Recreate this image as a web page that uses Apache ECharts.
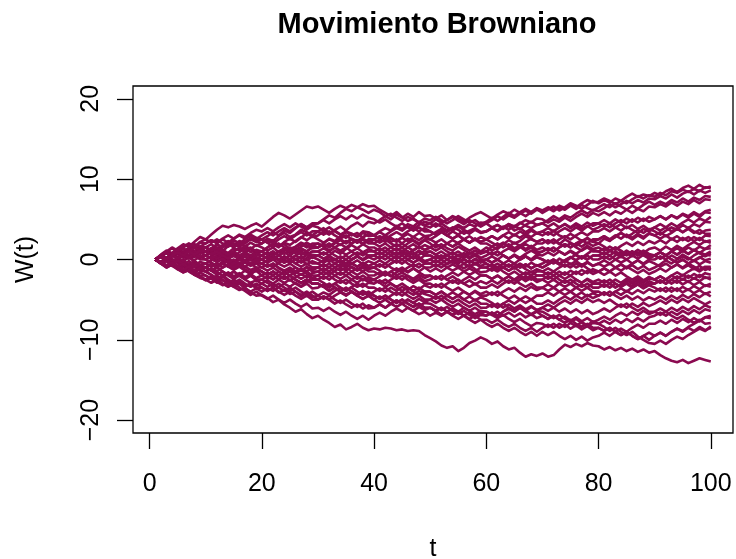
<!DOCTYPE html>
<html>
<head>
<meta charset="utf-8">
<script src="https://cdn.jsdelivr.net/npm/echarts@6/dist/echarts.min.js"></script>
<style>
  html, body { margin: 0; padding: 0; background: #ffffff; }
  #chart { width: 736px; height: 559px; }
</style>
</head>
<body>
<div id="chart"></div>
<script>
// Brownian paths W(t), t = 1..100, one array per path
const w01 = [0,0.4,0.1,0.7,1.2,0.9,1.3,1.0,1.6,1.5, 1.9,1.4,1.8,2.3,1.9,1.6,2.1,2.5,2.2,2.0, 2.6,2.3,2.9,3.3,2.8,3.1,3.7,3.4,3.0,3.5, 3.9,3.3,3.6,3.1,2.7,3.2,2.9,3.5,3.4,3.0, 3.5,3.9,3.6,4.2,3.8,4.4,4.1,4.7,4.3,4.5, 5.0,4.6,4.9,5.4,5.1,4.7,5.2,5.6,5.9,5.5, 5.1,5.6,6.0,5.7,6.2,5.8,5.4,5.9,6.3,5.8, 6.2,6.6,6.1,6.5,7.0,6.7,6.3,6.8,7.3,7.0, 7.4,7.1,7.6,7.3,7.8,8.2,7.8,8.1,7.9,8.3, 8.0,8.5,8.8,8.4,8.9,9.2,8.8,9.3,8.9,9.1];
const w02 = [0,0.6,1.1,0.8,1.4,1.9,1.6,2.2,2.8,2.5, 3.1,3.7,4.2,4.0,4.3,4.1,3.8,4.2,4.5,4.1, 4.7,5.3,5.8,5.5,5.1,5.6,6.1,6.6,6.4,6.6, 6.2,5.8,6.3,6.7,6.4,6.8,6.5,6.2,5.8,6.2, 5.9,5.4,5.7,5.2,4.8,5.3,5.0,4.6,5.1,4.9, 5.3,4.9,4.5,4.9,5.4,5.0,4.6,4.9,4.4,4.7, 5.2,4.8,5.3,5.8,5.4,5.9,6.3,5.9,6.4,6.1, 6.5,6.2,6.7,6.4,6.9,6.5,7.0,7.4,7.1,7.2, 7.6,7.3,6.9,7.3,7.0,7.5,7.9,7.6,8.0,7.8, 8.3,8.0,8.5,8.3,8.7,8.4,8.8,8.5,9.0,8.9];
const w03 = [0,-0.3,0.2,0.6,0.3,0.8,0.5,1.1,0.7,1.0, 1.4,1.1,1.7,2.1,1.8,2.3,2.0,2.6,2.2,2.5, 2.9,3.4,3.0,3.6,3.3,3.9,4.4,4.0,4.3,4.5, 5.0,5.5,5.2,5.8,6.3,6.0,6.5,6.9,6.6,6.7, 6.2,5.8,5.4,5.9,5.3,4.8,5.1,4.6,4.2,4.0, 4.5,4.1,3.6,4.0,3.7,3.2,3.6,3.9,3.4,3.5, 3.9,3.5,4.0,4.4,4.1,4.6,4.2,3.9,4.3,4.5, 4.9,5.4,5.0,5.5,5.2,5.7,6.1,5.7,6.2,6.0, 6.4,6.9,6.5,6.9,7.3,7.0,7.4,7.1,7.6,7.5, 7.9,7.6,8.1,7.7,8.2,8.5,8.1,8.6,8.3,8.6];
const w04 = [0,0.5,0.2,0.7,1.1,0.8,1.3,1.7,1.2,1.5, 1.1,1.5,1.0,0.6,1.0,1.4,0.9,1.3,0.8,1.0, 1.5,1.9,1.6,2.1,1.8,2.3,2.8,2.4,2.9,2.5, 2.1,2.5,2.2,1.8,2.3,2.0,2.4,1.9,2.4,2.0, 2.5,2.2,2.7,2.3,2.8,3.2,2.8,3.3,2.9,3.0, 3.4,3.8,3.4,3.9,4.3,3.9,4.4,4.1,4.6,4.5, 4.9,5.4,5.0,5.5,5.2,5.7,6.1,5.7,6.2,6.0, 6.4,6.0,6.5,6.2,6.7,6.3,6.8,6.4,6.1,6.5, 6.9,6.5,7.0,6.6,6.2,6.7,6.3,6.8,7.2,6.8, 7.2,6.9,7.4,7.1,7.6,7.2,7.7,7.4,7.9,7.8];
const w05 = [0,-0.4,-0.1,-0.6,-0.3,-0.8,-0.5,-1.0,-0.7,-1.0, -0.5,-0.8,-0.3,0.1,-0.3,0.2,-0.1,0.4,0.0,0.5, 0.9,0.5,1.0,0.7,1.2,0.8,1.3,1.0,1.6,1.5, 1.9,1.6,2.1,2.5,2.1,2.6,2.3,2.8,3.2,3.0, 3.4,3.0,3.5,3.9,3.6,4.1,3.8,4.3,4.7,4.5, 4.1,4.5,4.0,3.6,4.1,3.7,3.3,3.8,3.4,3.5, 3.9,4.3,3.9,4.4,4.0,4.5,4.9,4.6,5.1,5.0, 4.6,5.0,4.7,5.2,4.8,5.3,5.7,5.3,5.8,5.5, 5.9,5.5,6.0,5.7,6.2,5.8,6.3,6.0,6.6,6.5, 6.9,6.6,7.1,6.7,7.2,6.9,7.4,7.0,7.5,7.4];
const w06 = [0,0.5,1.0,0.7,1.2,0.9,1.5,1.9,1.6,2.0, 2.4,2.1,2.6,3.0,2.6,3.1,2.8,3.3,3.7,3.5, 3.9,3.5,4.0,4.4,4.0,4.5,4.1,3.7,4.2,4.0, 3.6,4.0,3.5,3.1,3.5,3.2,2.8,3.3,2.9,3.0, 2.6,3.0,2.6,2.2,2.7,2.3,2.8,2.4,2.9,2.5, 2.9,3.4,3.0,3.5,3.1,3.6,3.2,3.7,3.3,3.5, 3.9,3.6,4.1,3.7,4.2,3.8,4.3,4.7,4.3,4.5, 4.1,4.5,4.0,4.4,3.9,4.3,3.8,4.2,3.7,4.0, 4.4,4.0,4.5,4.9,4.5,5.0,4.6,5.1,4.7,5.0, 5.4,5.0,5.5,5.2,5.7,5.4,5.9,5.5,6.0,6.2];
const w07 = [0,-0.4,-0.8,-0.5,-1.0,-0.7,-1.2,-0.9,-1.4,-1.5, -1.1,-1.6,-2.0,-1.6,-2.1,-1.7,-2.2,-1.8,-2.3,-2.0, -1.6,-2.0,-1.5,-1.9,-1.4,-1.0,-1.4,-0.9,-1.3,-1.0, -0.6,-1.0,-0.5,-0.1,-0.5,0.0,0.4,0.0,0.5,0.5, 0.9,0.5,1.0,0.6,1.1,0.7,1.2,1.6,1.2,1.5, 1.9,1.5,2.0,1.6,2.1,2.5,2.1,2.6,2.2,2.5, 2.9,2.5,3.0,2.6,3.1,2.7,3.2,2.8,3.3,3.0, 3.4,3.0,3.5,3.9,3.5,4.0,3.6,4.1,4.5,4.5, 4.9,4.5,5.0,4.6,5.1,4.7,5.2,4.8,5.3,5.0, 5.4,5.0,5.5,5.1,5.6,5.2,5.7,5.3,5.9,5.8];
const w08 = [0,0.4,0.0,0.5,0.2,0.7,1.1,0.7,1.2,1.0, 0.6,1.0,0.5,0.1,0.5,0.0,0.4,-0.1,0.3,0.0, -0.4,0.0,-0.5,-0.9,-0.5,-1.0,-1.4,-1.0,-1.5,-1.5, -1.1,-1.5,-1.0,-0.6,-1.0,-0.5,-0.9,-0.4,-0.8,-0.5, -0.1,-0.5,0.0,0.4,0.0,0.5,0.1,0.6,1.0,1.0, 0.6,1.0,0.5,0.9,0.4,0.8,0.3,0.7,0.2,0.5, 0.9,0.5,1.0,1.4,1.0,1.5,1.9,1.5,2.0,2.0, 2.4,2.0,2.5,2.9,2.5,3.0,3.4,3.0,3.5,3.5, 3.9,3.5,4.0,3.6,4.1,3.7,3.3,3.8,3.5,4.0, 4.4,4.0,4.5,4.1,4.6,5.0,4.6,5.1,4.8,5.3];
const w09 = [0,0.3,0.9,0.6,0.2,0.8,0.5,0.3,0.9,0.5, 1.1,1.4,1.0,1.7,2.0,1.6,2.2,2.6,2.3,2.5, 2.1,2.4,1.7,1.9,1.3,1.6,2.1,1.8,1.4,1.5, 2.0,2.6,2.3,2.9,3.4,3.0,3.3,2.7,3.2,3.0, 2.6,2.9,2.2,2.5,2.0,2.6,2.3,1.8,2.4,2.0, 1.5,1.9,1.4,1.1,1.6,1.2,0.7,1.1,0.8,1.0, 1.6,1.3,1.9,2.4,2.0,2.3,2.9,2.5,2.2,2.5, 2.0,2.4,1.9,2.5,2.1,1.7,2.2,2.6,2.2,2.0, 2.6,2.3,2.9,3.3,2.8,3.2,3.7,3.3,3.8,3.5, 3.1,3.6,4.0,3.7,4.3,3.9,4.4,4.1,4.7,4.6];
const w10 = [0,0.4,-0.2,0.1,-0.4,-0.1,0.3,-0.3,-0.7,-0.5, -0.1,0.5,0.2,0.8,0.4,0.9,1.4,0.9,1.2,1.0, 1.5,1.9,1.5,2.2,2.6,2.2,2.7,3.3,2.8,3.0, 3.5,3.1,3.7,4.1,3.6,4.2,4.6,4.1,4.7,4.5, 4.9,5.4,5.0,5.6,5.2,5.7,5.3,5.9,5.4,5.5, 5.1,5.5,4.9,5.3,4.8,4.4,4.9,4.5,4.1,4.5, 4.0,4.3,3.8,4.2,3.6,3.9,3.4,3.8,3.3,3.5, 3.1,3.6,3.0,2.7,3.2,2.8,2.3,2.7,2.2,2.5, 2.9,2.4,2.8,3.3,2.9,2.5,3.0,2.6,3.2,3.0, 3.4,2.9,3.3,3.8,3.4,3.9,3.5,3.2,3.6,3.7];
const w11 = [0,0.5,0.8,0.4,1.0,1.3,0.9,1.5,1.2,1.5, 1.1,0.6,0.9,0.3,0.6,0.1,-0.3,0.1,-0.4,-0.5, -0.9,-0.5,-1.1,-1.5,-1.2,-1.7,-1.3,-1.8,-2.3,-2.0, -1.5,-1.9,-1.4,-1.0,-1.4,-0.9,-1.3,-0.8,-1.2,-1.0, -1.4,-1.9,-1.5,-2.0,-1.6,-2.1,-2.6,-2.2,-2.7,-2.5, -2.1,-2.5,-2.0,-1.6,-2.0,-1.5,-1.1,-1.5,-1.0,-1.0, -0.6,-1.0,-0.5,-0.1,-0.5,0.0,0.4,0.0,0.6,0.5, 0.9,0.5,1.0,0.6,1.1,0.7,1.2,1.7,1.3,1.5, 1.1,1.6,1.2,1.7,2.1,1.7,2.2,1.8,2.3,2.0, 2.4,2.0,2.6,2.2,2.7,2.3,2.8,2.4,3.0,2.9];
const w12 = [0,-0.5,-0.2,-0.8,-1.2,-0.9,-1.5,-1.9,-1.6,-2.0, -2.4,-2.0,-2.6,-3.0,-2.5,-2.9,-3.4,-3.0,-3.3,-3.0, -2.6,-3.0,-2.5,-2.1,-2.6,-2.2,-1.8,-2.2,-1.7,-1.5, -1.9,-1.5,-2.0,-2.4,-2.0,-2.5,-2.1,-2.6,-2.2,-2.5, -2.1,-1.7,-2.1,-1.6,-1.2,-1.6,-1.1,-1.5,-1.0,-1.0, -0.6,-1.0,-0.5,-0.1,-0.5,0.0,-0.4,0.1,-0.3,0.0, -0.4,0.0,-0.5,-0.9,-0.5,-1.0,-0.6,-1.1,-0.7,-1.0, -0.6,-0.2,-0.6,-0.1,0.3,-0.1,0.4,0.0,0.5,0.5, 0.9,0.5,1.0,0.6,1.1,0.7,1.2,0.8,1.3,1.5, 1.1,1.6,1.2,1.7,1.3,1.8,2.2,1.8,2.3,2.1];
const w13 = [0,0.3,-0.2,0.4,0.7,0.2,0.6,0.9,0.3,0.5, 0.9,0.6,1.2,0.8,1.4,1.1,1.7,1.3,1.8,1.5, 1.1,1.5,0.9,1.3,0.8,1.2,0.6,0.9,0.4,0.5, 0.9,0.5,1.1,0.7,1.3,1.8,1.4,1.9,1.5,1.5, 1.1,1.5,0.9,0.5,0.9,0.4,0.8,0.3,-0.2,0.0, -0.4,0.0,-0.6,-0.2,-0.7,-1.1,-0.7,-1.2,-1.6,-1.5, -1.1,-1.5,-1.0,-1.4,-0.9,-0.5,-0.9,-0.4,-0.8,-0.5, -0.1,-0.5,0.1,-0.3,0.2,0.6,0.2,0.7,1.2,1.0, 0.6,1.1,0.7,0.3,0.8,0.4,0.9,0.5,0.1,0.5, 0.9,0.5,1.0,1.4,1.0,1.5,1.1,1.6,1.3,1.8];
const w14 = [0,-0.4,-0.1,-0.6,-0.2,-0.7,-1.1,-0.7,-1.3,-1.0, -0.6,-1.0,-0.5,-0.8,-0.3,0.1,-0.3,0.2,-0.2,0.0, 0.4,0.9,0.5,1.1,1.5,1.1,1.6,2.1,1.7,2.0, 1.6,1.1,1.5,1.0,0.6,1.0,0.5,0.9,0.4,0.5, 0.9,0.5,1.0,1.4,1.0,1.5,1.1,1.6,1.2,1.5, 1.9,1.5,2.0,2.4,2.0,2.5,2.1,2.6,2.2,2.5, 2.1,1.7,2.1,1.6,1.2,1.6,1.1,1.5,0.9,1.0, 1.4,1.0,1.5,1.9,1.5,2.0,1.6,2.1,1.7,2.0, 1.6,1.1,1.5,1.0,0.6,1.0,0.5,0.9,0.4,0.5, 0.9,0.5,1.0,0.6,1.1,0.7,1.2,0.8,1.3,1.4];
const w15 = [0,0.4,0.8,0.4,0.9,0.6,1.1,0.7,1.2,1.0, 0.6,0.2,0.6,0.1,-0.3,0.1,-0.4,-0.8,-0.5,-1.0, -0.6,-0.9,-0.4,0.0,-0.4,0.1,-0.3,0.2,0.6,0.5, 0.1,0.5,0.0,-0.4,0.0,-0.5,-0.1,-0.6,-0.2,-0.5, -0.9,-0.5,-1.0,-1.4,-1.0,-1.5,-1.1,-1.6,-2.0,-2.0, -2.4,-2.0,-2.5,-2.1,-2.6,-3.0,-2.6,-3.1,-2.7,-3.0, -2.6,-3.0,-2.5,-2.1,-2.5,-2.0,-1.6,-2.0,-1.5,-1.5, -1.1,-1.5,-1.0,-0.6,-1.0,-0.5,-0.9,-0.4,-0.8,-0.5, -0.9,-0.5,-1.0,-0.6,-1.1,-0.7,-1.2,-0.8,-1.3,-1.0, -0.6,-0.1,-0.5,0.0,0.4,0.0,0.5,0.9,0.6,1.0];
const w16 = [0,-0.3,-0.7,-0.4,-0.9,-1.3,-1.0,-1.6,-1.2,-1.5, -1.9,-2.4,-2.1,-2.7,-3.1,-2.8,-3.3,-3.0,-3.6,-3.5, -3.9,-3.5,-4.1,-3.8,-4.3,-4.0,-4.6,-4.2,-4.7,-4.5, -4.1,-4.4,-3.9,-3.5,-3.9,-3.4,-3.0,-3.4,-2.9,-3.0, -2.6,-3.0,-2.5,-2.1,-2.5,-2.0,-2.4,-1.9,-2.3,-2.0, -2.4,-2.0,-2.5,-2.9,-2.5,-3.0,-3.4,-3.0,-3.5,-3.5, -3.1,-3.5,-3.0,-2.6,-3.0,-2.5,-2.1,-2.5,-2.0,-2.0, -1.6,-2.0,-1.5,-1.9,-1.4,-1.8,-1.3,-1.7,-1.2,-1.5, -1.1,-1.5,-1.0,-0.6,-1.0,-0.5,-0.1,-0.5,0.0,0.0, 0.4,0.0,0.5,0.1,0.6,0.2,-0.2,0.2,0.6,0.5];
const w17 = [0,0.5,0.9,1.4,1.0,1.5,1.9,1.5,2.1,2.0, 2.4,2.0,2.5,2.1,2.6,3.0,2.6,3.1,2.7,2.5, 2.1,1.6,2.0,1.5,1.1,1.5,1.0,0.6,1.0,1.0, 1.4,1.0,1.5,1.9,1.5,2.0,2.4,2.0,2.5,2.5, 2.9,2.5,3.0,3.4,3.0,3.5,3.9,3.5,3.9,3.5, 3.1,3.5,3.0,2.6,3.0,2.5,2.1,2.5,2.0,2.0, 1.6,2.0,1.5,1.9,1.4,1.8,1.3,1.7,1.2,1.5, 1.1,1.5,1.0,0.6,1.0,0.5,0.1,0.5,0.0,0.0, 0.4,0.0,0.5,0.9,0.5,1.0,0.6,1.1,0.7,0.5, 0.1,0.5,0.0,-0.4,0.0,-0.5,-0.1,0.3,-0.1,0.1];
const w18 = [0,-0.4,0.1,-0.3,0.2,-0.2,-0.6,-0.2,-0.7,-0.5, -0.1,0.3,-0.1,0.4,0.8,0.4,0.9,0.5,1.0,1.0, 0.6,1.0,0.5,0.1,0.5,0.0,-0.4,0.0,-0.5,-0.5, -0.9,-0.5,-1.0,-1.4,-1.0,-1.5,-1.9,-1.5,-2.0,-2.0, -1.6,-2.0,-1.5,-1.1,-1.5,-1.0,-0.6,-1.0,-0.5,-0.5, -0.1,-0.5,0.0,0.4,0.0,0.5,0.9,0.5,1.0,1.5, 1.1,1.5,2.0,1.6,2.1,1.7,2.2,2.6,2.2,2.5, 2.1,2.5,2.0,1.6,2.0,1.5,1.1,1.5,1.0,1.0, 1.4,1.0,1.5,1.1,0.6,1.0,0.5,0.9,0.4,0.5, 0.1,0.5,0.0,-0.4,0.0,-0.5,-0.1,-0.6,-0.2,-0.4];
const w19 = [0,0.4,0.0,0.5,0.9,0.5,1.0,0.6,0.2,0.5, 0.1,-0.3,0.1,-0.4,-0.8,-0.4,-0.9,-1.3,-1.0,-1.5, -1.9,-1.5,-2.0,-2.4,-2.0,-2.5,-2.9,-2.5,-3.0,-3.0, -3.4,-3.0,-3.5,-3.9,-3.5,-4.0,-4.4,-4.0,-4.5,-4.0, -3.6,-4.0,-3.5,-3.9,-3.4,-3.8,-3.3,-3.7,-3.2,-3.5, -3.1,-3.5,-3.0,-2.6,-3.0,-2.5,-2.1,-2.5,-2.0,-2.0, -2.4,-2.0,-2.5,-2.1,-2.6,-2.2,-2.7,-2.3,-2.8,-2.5, -2.1,-2.5,-2.0,-1.6,-2.0,-1.5,-1.9,-1.4,-1.8,-1.5, -1.1,-1.5,-1.0,-1.4,-0.9,-1.3,-1.7,-1.3,-1.8,-1.5, -1.1,-1.5,-1.0,-0.6,-1.0,-0.5,-0.9,-1.3,-0.9,-0.9];
const w20 = [0,-0.5,-1.0,-0.6,-1.2,-1.6,-1.3,-1.9,-2.3,-2.5, -2.1,-2.6,-2.2,-1.8,-2.3,-1.9,-1.4,-1.8,-1.3,-1.5, -1.9,-1.5,-2.0,-2.4,-2.0,-2.5,-2.9,-2.5,-3.0,-3.0, -3.4,-3.9,-3.5,-4.0,-4.4,-4.0,-4.5,-4.9,-4.5,-5.0, -4.6,-5.0,-4.5,-4.1,-4.5,-4.0,-4.4,-3.9,-4.3,-4.5, -4.9,-4.5,-5.0,-5.4,-5.0,-5.5,-5.9,-5.5,-6.0,-6.0, -5.6,-6.0,-5.5,-5.1,-5.5,-5.0,-4.6,-5.0,-4.5,-4.5, -4.1,-4.5,-4.0,-3.6,-4.0,-3.5,-3.1,-3.5,-3.0,-3.0, -3.4,-3.0,-3.5,-3.1,-2.6,-3.0,-2.5,-2.9,-2.4,-2.5, -2.1,-2.5,-2.0,-1.6,-2.0,-1.5,-1.1,-1.5,-1.0,-1.3];
const w21 = [0,0.5,0.2,0.7,0.3,0.8,1.2,0.8,1.3,1.0, 1.4,1.0,1.5,1.9,1.5,2.0,1.6,2.1,1.7,2.0, 2.4,2.0,2.5,2.9,2.5,3.0,3.4,3.0,3.5,3.5, 3.1,3.5,3.0,2.6,3.0,2.5,2.1,2.5,2.0,2.0, 1.6,2.0,1.5,1.1,1.5,1.0,0.6,1.0,0.5,0.5, 0.1,0.5,0.0,-0.4,0.0,-0.5,-0.1,-0.6,-0.2,-0.5, -0.9,-0.5,-1.0,-0.6,-1.1,-0.7,-1.2,-1.6,-1.2,-1.5, -1.9,-1.5,-2.0,-2.4,-2.0,-2.5,-2.9,-2.5,-3.0,-3.0, -2.6,-3.0,-2.5,-2.9,-2.4,-2.8,-2.3,-2.7,-2.2,-2.5, -2.1,-2.5,-2.0,-2.4,-1.9,-2.3,-1.8,-2.2,-1.7,-1.9];
const w22 = [0,-0.4,0.0,-0.5,-0.1,-0.6,-1.0,-0.6,-1.1,-1.0, -1.4,-1.0,-1.5,-1.9,-1.5,-2.0,-2.4,-2.0,-2.5,-2.5, -2.1,-2.5,-2.0,-1.6,-2.0,-1.5,-1.1,-1.5,-1.0,-1.0, -0.6,-1.0,-0.5,-0.1,-0.5,0.0,0.4,0.0,0.5,0.5, 0.1,0.5,0.0,-0.4,0.0,-0.5,-0.9,-0.5,-1.0,-1.5, -1.1,-1.5,-1.0,-0.6,-1.0,-0.5,-0.9,-0.4,-0.8,-0.5, -0.9,-1.3,-0.9,-1.4,-1.0,-1.5,-1.9,-1.5,-2.0,-2.0, -2.4,-2.0,-2.5,-2.9,-2.5,-3.0,-3.4,-3.0,-3.5,-3.5, -3.1,-3.5,-3.0,-3.4,-2.9,-3.3,-2.8,-3.2,-2.7,-3.0, -2.6,-3.0,-2.5,-2.9,-2.4,-2.8,-2.3,-2.7,-2.2,-2.5];
const w23 = [0,0.4,0.8,0.4,0.9,0.5,0.1,0.5,0.0,0.0, 0.4,0.0,0.5,0.1,0.6,0.2,0.7,0.3,0.8,0.5, 0.1,0.5,0.0,-0.4,0.0,-0.5,-0.1,-0.6,-0.2,-0.5, -0.1,0.3,-0.1,0.4,0.0,0.5,0.9,0.5,1.0,1.0, 1.4,1.0,1.5,1.9,1.5,2.0,2.4,2.0,2.5,2.5, 2.1,2.5,2.0,1.6,2.0,1.5,1.1,1.5,1.0,1.0, 0.6,1.0,0.5,0.1,0.5,0.0,0.4,-0.1,0.3,0.0, -0.4,0.0,-0.5,-0.9,-0.5,-1.0,-0.6,-1.1,-1.5,-1.5, -1.9,-1.5,-2.0,-1.6,-2.1,-2.5,-2.1,-2.6,-2.2,-2.5, -2.9,-2.5,-3.0,-2.6,-3.1,-2.7,-3.2,-2.8,-3.3,-3.0];
const w24 = [0,-0.5,-0.1,-0.6,-1.0,-0.6,-1.1,-1.5,-1.1,-1.0, -1.4,-1.9,-1.5,-2.0,-2.4,-2.0,-2.5,-2.9,-2.6,-3.0, -3.4,-3.0,-3.5,-3.9,-3.5,-4.0,-4.4,-4.0,-4.5,-5.0, -4.6,-5.0,-5.5,-5.1,-5.6,-6.0,-5.6,-6.1,-5.7,-6.0, -5.6,-6.0,-5.5,-5.1,-5.5,-5.0,-5.4,-4.9,-5.3,-5.0, -4.6,-5.0,-4.5,-4.1,-4.5,-4.0,-4.4,-3.9,-4.3,-4.0, -4.4,-4.0,-4.5,-4.9,-4.5,-5.0,-5.4,-5.0,-5.5,-5.5, -5.1,-5.5,-5.0,-4.6,-5.0,-4.5,-4.9,-4.4,-4.8,-4.5, -4.1,-4.5,-4.0,-4.4,-3.9,-4.3,-3.8,-4.2,-3.7,-4.0, -3.6,-4.0,-3.5,-3.9,-3.4,-3.8,-3.3,-3.7,-3.2,-3.4];
const w25 = [0,0.5,0.9,0.5,1.0,1.4,1.0,1.5,1.1,1.5, 1.1,1.5,1.0,0.6,1.0,0.5,0.9,0.4,0.8,0.5, 0.9,0.5,1.0,1.4,1.0,1.5,1.9,1.5,2.0,2.0, 1.6,2.0,1.5,1.1,1.5,1.0,1.4,0.9,1.3,1.0, 0.6,1.0,0.5,0.1,0.5,0.0,-0.4,0.0,-0.5,-0.5, -0.9,-0.5,-1.0,-1.4,-1.0,-1.5,-1.9,-1.5,-2.0,-2.0, -2.4,-2.0,-2.5,-2.9,-2.5,-3.0,-3.4,-3.0,-3.5,-3.5, -3.1,-3.5,-3.0,-2.6,-3.0,-2.5,-2.9,-2.4,-2.8,-2.5, -2.9,-2.5,-3.0,-3.4,-3.0,-3.5,-3.1,-3.6,-3.2,-3.5, -3.9,-3.5,-4.0,-3.6,-4.1,-3.7,-4.2,-3.8,-4.3,-4.0];
const w26 = [0,-0.4,-0.9,-0.5,-1.0,-1.4,-1.0,-1.6,-2.0,-2.0, -2.4,-2.9,-2.5,-3.0,-3.4,-3.0,-3.6,-4.0,-3.6,-4.0, -3.6,-3.9,-3.4,-3.0,-3.4,-2.9,-3.3,-2.8,-2.4,-2.5, -2.1,-2.5,-2.0,-1.6,-2.0,-1.5,-1.1,-1.5,-1.0,-1.0, -0.6,-1.0,-0.5,-0.1,-0.5,0.0,0.4,0.0,0.5,0.5, 0.1,0.5,0.0,-0.4,0.0,-0.5,-0.9,-0.5,-1.0,-1.0, -1.4,-1.0,-1.5,-1.9,-1.5,-2.0,-2.4,-2.0,-2.5,-2.5, -2.9,-2.5,-3.0,-3.4,-3.0,-3.5,-3.9,-3.5,-4.0,-4.0, -4.4,-4.0,-4.5,-4.9,-4.5,-5.0,-4.6,-5.1,-4.7,-5.0, -4.6,-5.0,-4.5,-4.9,-4.4,-4.8,-4.3,-4.7,-4.2,-4.6];
const w27 = [0,0.4,0.0,0.5,0.1,0.6,0.2,0.7,0.3,0.5, 0.1,-0.3,0.1,-0.4,-0.8,-0.4,-0.9,-0.5,-1.0,-1.0, -1.4,-1.0,-1.5,-1.9,-1.5,-2.0,-2.4,-2.0,-2.5,-2.5, -2.9,-3.4,-3.0,-3.5,-3.9,-3.5,-4.0,-4.4,-4.0,-4.5, -4.9,-4.5,-5.0,-5.4,-5.0,-5.5,-5.9,-5.5,-6.0,-6.0, -6.4,-6.0,-6.5,-6.9,-6.5,-7.0,-6.6,-7.1,-6.7,-7.0, -6.6,-7.0,-6.5,-6.1,-6.5,-6.0,-6.4,-5.9,-6.3,-6.0, -6.4,-6.0,-6.5,-6.1,-6.6,-6.2,-6.7,-6.3,-6.8,-6.5, -6.1,-6.5,-6.0,-5.6,-6.0,-5.5,-5.9,-5.4,-5.8,-5.5, -5.1,-5.5,-5.0,-5.4,-4.9,-5.3,-4.8,-5.2,-5.6,-5.2];
const w28 = [0,-0.4,0.1,-0.3,-0.8,-0.4,-0.9,-0.5,-1.1,-1.0, -0.6,-1.0,-0.5,-0.1,-0.5,0.0,0.4,0.0,0.5,0.5, 0.1,0.5,0.0,-0.4,0.0,-0.5,-0.9,-0.5,-1.0,-1.0, -1.4,-1.0,-1.5,-1.9,-1.5,-2.0,-2.4,-2.0,-2.5,-2.5, -2.9,-2.5,-3.0,-3.4,-3.0,-3.5,-3.9,-3.5,-4.0,-4.0, -4.4,-4.0,-4.5,-4.9,-4.5,-5.0,-4.6,-5.1,-4.7,-5.0, -5.4,-5.9,-5.5,-6.0,-6.4,-6.0,-6.5,-6.9,-6.5,-7.0, -7.4,-7.0,-7.5,-7.1,-7.6,-7.2,-7.7,-7.3,-7.8,-7.5, -7.1,-7.5,-7.0,-6.6,-7.0,-6.5,-6.9,-6.4,-6.8,-6.5, -6.1,-6.5,-6.0,-6.4,-5.9,-6.3,-5.8,-6.2,-5.7,-6.0];
const w29 = [0,-0.5,-1.0,-0.6,-1.1,-1.5,-1.1,-1.7,-2.1,-2.5, -2.9,-2.5,-3.0,-3.4,-3.0,-3.5,-3.9,-4.4,-4.0,-4.5, -4.9,-4.5,-5.0,-5.4,-5.0,-5.5,-5.9,-5.5,-6.1,-6.0, -6.4,-6.0,-6.5,-6.9,-6.5,-7.0,-7.4,-7.0,-7.5,-7.0, -6.6,-7.0,-6.5,-6.1,-6.5,-6.0,-6.4,-5.9,-6.3,-6.0, -6.4,-6.0,-6.5,-6.9,-6.5,-7.0,-7.4,-7.0,-7.5,-7.5, -7.9,-7.5,-8.0,-8.4,-8.0,-8.5,-8.9,-8.5,-9.0,-8.5, -8.1,-8.5,-8.0,-8.4,-7.9,-8.3,-7.8,-8.2,-7.7,-8.0, -7.6,-8.0,-7.5,-7.9,-7.4,-7.8,-7.3,-7.7,-7.2,-7.0, -6.6,-7.0,-6.5,-6.9,-6.4,-6.8,-6.3,-6.7,-6.2,-6.4];
const w30 = [0,0.5,0.1,0.6,1.0,0.6,1.1,0.7,1.2,1.0, 0.6,1.0,0.5,0.1,0.5,0.0,-0.4,0.0,-0.5,-0.5, -0.9,-0.5,-1.0,-1.4,-1.0,-1.5,-1.9,-1.5,-2.0,-2.0, -2.4,-2.0,-2.5,-2.9,-2.5,-3.0,-3.4,-3.0,-3.5,-3.5, -3.9,-3.5,-4.0,-4.4,-4.0,-4.5,-4.9,-4.5,-5.0,-5.0, -5.4,-5.0,-5.5,-5.9,-5.5,-6.0,-6.4,-6.0,-6.5,-6.5, -6.9,-6.5,-7.0,-6.6,-7.1,-6.7,-7.2,-6.8,-7.3,-7.0, -7.4,-7.0,-7.5,-7.9,-7.5,-8.0,-8.4,-8.0,-8.5,-8.5, -8.9,-8.5,-9.0,-9.4,-9.0,-9.5,-9.9,-9.5,-10.0,-9.5, -9.1,-9.5,-9.0,-8.6,-8.9,-8.4,-8.0,-7.6,-7.2,-7.0];
const w31 = [0,-0.4,-0.9,-0.5,-1.0,-0.6,-1.1,-1.5,-1.1,-1.5, -1.9,-2.4,-2.0,-2.5,-2.9,-2.5,-3.0,-3.4,-3.0,-3.5, -3.9,-3.5,-4.0,-4.4,-4.0,-4.5,-4.9,-4.5,-5.0,-5.0, -4.6,-5.0,-4.5,-4.1,-4.5,-4.0,-4.4,-3.9,-4.3,-4.5, -4.9,-4.5,-5.0,-5.4,-5.0,-5.5,-5.9,-5.5,-6.0,-6.0, -6.4,-6.9,-6.5,-7.0,-7.4,-7.0,-7.5,-7.9,-7.5,-8.0, -8.4,-8.0,-8.5,-8.9,-8.5,-9.0,-9.4,-9.0,-9.5,-9.0, -9.4,-9.0,-9.5,-9.9,-9.5,-10.0,-9.6,-10.1,-9.7,-9.5, -9.1,-9.5,-9.0,-8.6,-9.0,-8.5,-8.1,-8.5,-8.0,-8.0, -7.6,-8.0,-7.5,-7.9,-7.4,-7.8,-7.3,-7.7,-7.2,-7.3];
const w32 = [0,-0.4,0.1,-0.3,0.2,-0.2,0.3,-0.1,0.4,0.0, -0.4,-0.8,-0.4,-0.9,-1.3,-0.9,-1.4,-1.8,-1.4,-2.0, -2.4,-2.0,-2.5,-2.9,-2.5,-3.0,-3.4,-3.0,-3.6,-3.5, -3.1,-3.5,-3.0,-2.6,-3.0,-2.5,-2.9,-2.4,-2.8,-2.5, -2.9,-3.4,-3.0,-3.5,-3.9,-3.5,-4.0,-4.4,-4.0,-4.0, -4.4,-4.0,-4.5,-4.9,-4.5,-5.0,-5.4,-5.0,-5.5,-5.5, -5.9,-5.5,-6.0,-5.6,-6.1,-5.7,-6.2,-5.8,-6.3,-6.0, -5.6,-6.0,-5.5,-5.1,-5.5,-5.0,-5.4,-4.9,-5.3,-5.0, -5.4,-5.0,-5.5,-5.9,-5.5,-6.0,-6.4,-6.0,-6.5,-6.5, -6.9,-6.5,-7.0,-7.4,-7.0,-7.5,-7.9,-7.5,-8.0,-7.9];
const w33 = [0,-0.4,0.0,-0.5,-0.1,-0.6,-0.2,-0.7,-0.3,-0.5, -0.9,-0.5,-1.0,-0.6,-1.1,-0.7,-1.2,-1.6,-1.2,-1.5, -1.9,-1.5,-2.0,-2.4,-2.0,-2.5,-2.9,-2.5,-3.0,-3.0, -3.4,-3.9,-3.5,-4.0,-4.4,-4.0,-4.5,-4.9,-4.5,-5.0, -5.4,-5.0,-5.5,-5.9,-5.5,-6.0,-6.4,-6.8,-6.5,-7.0, -6.6,-7.0,-6.5,-6.1,-6.5,-6.0,-6.4,-6.8,-6.4,-6.5, -6.9,-7.3,-6.9,-7.4,-7.8,-7.4,-7.9,-8.3,-7.9,-8.0, -8.4,-8.0,-8.5,-8.1,-8.6,-8.2,-8.7,-8.3,-8.8,-8.5, -8.9,-8.5,-9.0,-9.4,-9.0,-9.5,-9.9,-9.5,-9.1,-9.5, -9.1,-9.5,-9.0,-8.6,-9.0,-8.5,-8.9,-8.4,-8.8,-8.5];
const w34 = [0,-0.5,-0.1,-0.6,-1.0,-0.6,-1.1,-0.7,-1.2,-1.0, -1.4,-1.0,-1.5,-1.9,-1.5,-2.0,-2.4,-2.0,-2.6,-2.5, -2.9,-3.4,-3.0,-3.5,-3.9,-3.5,-4.0,-4.4,-4.0,-4.5, -4.9,-4.5,-5.0,-5.4,-5.0,-5.5,-5.9,-5.5,-6.1,-6.0, -5.6,-6.0,-5.5,-5.1,-5.5,-5.0,-5.4,-5.8,-5.4,-5.5, -5.9,-6.3,-5.9,-6.4,-6.8,-6.4,-6.9,-7.3,-6.9,-7.0, -6.6,-7.0,-6.5,-6.1,-6.5,-6.0,-6.4,-6.8,-6.4,-6.5, -6.9,-7.3,-6.9,-7.4,-7.8,-7.4,-7.9,-8.3,-7.9,-8.0, -8.4,-8.9,-8.5,-9.0,-9.4,-9.0,-9.6,-10.0,-10.4,-10.5, -10.1,-10.5,-10.0,-9.6,-9.9,-9.4,-9.0,-8.6,-8.9,-8.3];
const w35 = [0,-0.5,-0.9,-0.6,-1.2,-1.6,-1.3,-1.9,-2.2,-2.6, -2.3,-2.8,-3.2,-2.9,-3.4,-3.8,-3.5,-4.1,-4.5,-4.4, -4.8,-5.3,-5.0,-5.6,-6.0,-6.5,-6.2,-6.8,-7.3,-7.0, -7.5,-7.9,-8.4,-8.1,-8.7,-8.4,-8.0,-8.5,-8.8,-8.6, -8.7,-8.5,-8.6,-8.8,-8.7,-8.9,-8.8,-8.9,-9.4,-9.8, -10.2,-10.7,-11.0,-10.8,-11.4,-11.0,-10.4,-10.1,-9.7,-10.0, -10.5,-10.2,-10.8,-11.2,-11.0,-11.6,-12.1,-11.8,-12.0,-11.7, -12.1,-11.9,-11.2,-10.6,-10.9,-10.5,-10.8,-10.4,-10.7,-10.8, -11.2,-10.9,-11.3,-11.0,-11.4,-11.1,-11.5,-11.2,-11.6,-11.4, -11.9,-12.3,-12.6,-12.8,-12.5,-12.9,-12.6,-12.3,-12.5,-12.7];
const w36 = [0,0.4,0.0,0.5,0.1,0.6,0.2,0.7,0.3,0.5, 0.1,-0.3,0.1,-0.4,0.0,-0.5,-0.1,-0.6,-0.2,-0.5, -0.1,0.3,-0.1,0.4,0.0,0.5,0.1,0.6,0.2,0.5, 0.1,-0.3,0.1,-0.4,-0.8,-0.4,-0.9,-0.5,-1.0,-1.0, -0.6,-1.0,-0.5,-0.1,-0.5,0.0,-0.4,0.1,-0.3,0.0, 0.4,0.0,0.5,0.1,0.6,0.2,0.7,1.1,0.7,1.0, 0.6,1.0,0.5,0.1,0.5,0.0,0.4,-0.1,0.3,0.0, -0.4,0.0,-0.5,-0.1,-0.6,-0.2,-0.7,-0.3,-0.8,-0.5, -0.1,-0.5,0.0,0.4,0.0,0.5,0.1,0.6,0.2,0.5, 0.9,0.5,1.0,0.6,1.1,0.7,1.2,0.8,0.4,0.8];
const w37 = [0,-0.4,-0.8,-0.4,-0.9,-0.5,-1.0,-1.4,-1.0,-1.0, -0.6,-1.0,-0.5,-0.9,-0.4,-0.8,-0.3,-0.7,-0.2,-0.5, -0.1,0.3,-0.1,0.4,0.0,0.5,0.9,0.5,1.0,1.0, 0.6,1.0,0.5,0.1,0.5,0.0,0.4,-0.1,0.3,0.0, 0.4,0.0,0.5,0.9,0.5,1.0,0.6,1.1,0.7,1.0, 0.6,0.2,0.6,0.1,-0.3,0.1,-0.4,0.0,-0.4,0.0, 0.4,0.0,0.5,0.1,0.6,0.2,0.7,1.1,0.7,1.0, 1.4,1.0,1.5,1.9,1.5,2.0,2.4,2.0,2.5,2.5, 2.9,2.5,3.0,2.6,3.1,2.7,3.2,2.8,3.3,3.0, 2.6,3.0,2.5,2.9,2.4,2.8,2.3,2.7,2.2,2.4];
const w38 = [0,0.5,1.0,1.5,1.1,1.6,2.0,1.6,2.2,2.5, 2.1,2.5,2.0,1.6,2.0,1.5,1.1,1.5,1.0,1.0, 0.6,1.0,0.5,0.1,0.5,0.0,0.4,-0.1,0.3,0.0, -0.4,0.0,-0.5,-0.9,-0.5,-1.0,-1.4,-1.0,-1.5,-1.5, -1.9,-1.5,-2.0,-2.4,-2.0,-2.5,-2.9,-2.5,-3.0,-3.0, -3.4,-3.0,-3.5,-3.9,-3.5,-4.0,-4.4,-4.0,-4.5,-4.5, -4.1,-4.5,-4.0,-3.6,-4.0,-3.5,-3.9,-3.4,-3.8,-3.5, -3.9,-3.5,-4.0,-4.4,-4.0,-4.5,-4.1,-4.6,-4.2,-4.5, -4.1,-4.5,-4.0,-3.6,-4.0,-3.5,-3.1,-3.5,-3.0,-3.0, -2.6,-3.0,-2.5,-2.1,-2.5,-2.0,-2.4,-1.9,-2.3,-2.2];
const w39 = [0,0.4,0.0,0.5,0.9,0.5,1.0,0.6,1.1,1.0, 1.4,1.9,1.5,2.0,2.4,2.0,2.5,2.9,2.5,3.0, 3.4,3.0,3.5,3.9,3.5,4.0,4.4,4.0,4.5,4.5, 4.9,4.5,5.0,5.4,5.0,5.5,5.1,5.6,5.2,5.0, 4.6,5.0,4.5,4.1,4.5,4.0,3.6,4.0,3.5,3.5, 3.1,3.5,3.0,2.6,3.0,2.5,2.9,2.4,2.8,2.5, 2.9,2.5,3.0,3.4,3.0,3.5,3.1,3.6,3.2,3.5, 3.9,3.5,4.0,4.4,4.0,4.5,4.1,4.6,4.2,4.5, 4.1,4.5,4.0,4.4,3.9,4.3,3.8,4.2,3.7,4.0, 3.6,4.0,3.5,3.9,3.4,3.8,3.3,3.7,3.2,3.2];
const w40 = [0,-0.4,-0.8,-0.4,-0.9,-1.3,-0.9,-1.4,-1.0,-1.5, -1.1,-1.5,-1.0,-0.6,-1.0,-0.5,-0.1,-0.5,0.0,0.0, 0.4,0.0,0.5,0.9,0.5,1.0,1.4,1.0,1.5,1.5, 1.9,1.5,2.0,2.4,2.0,2.5,2.1,2.6,2.2,2.5, 2.1,2.5,2.0,1.6,2.0,1.5,1.9,1.4,1.8,1.5, 1.1,1.5,1.0,0.6,1.0,0.5,0.1,0.5,0.0,0.0, -0.4,0.0,-0.5,-0.9,-0.5,-1.0,-0.6,-1.1,-0.7,-1.0, -0.6,-0.2,-0.6,-0.1,0.3,-0.1,0.4,0.0,0.5,0.5, 0.1,0.5,0.0,-0.4,0.0,-0.5,-0.1,-0.6,-0.2,-0.5, -0.9,-0.5,-1.0,-0.6,-1.1,-0.7,-1.2,-0.8,-1.3,-1.0];

const paths = [w01,w02,w03,w04,w05,w06,w07,w08,w09,w10,
               w11,w12,w13,w14,w15,w16,w17,w18,w19,w20,
               w21,w22,w23,w24,w25,w26,w27,w28,w29,w30,
               w31,w32,w33,w34,w35,w36,w37,w38,w39,w40];

// axis ticks
const xTicks = [0, 20, 40, 60, 80, 100];
const yTicks = [-20, -10, 0, 10, 20];

const FONT = "'Liberation Sans', Arial, Helvetica, sans-serif";
const LINE_COLOR = '#8B0A50';

const series = paths.map((p, k) => ({
  type: 'line',
  name: 'W' + (k + 1),
  data: p.map((v, i) => [i + 1, v]),
  showSymbol: false,
  symbol: 'none',
  lineStyle: { color: LINE_COLOR, width: 2.6, join: 'round' },
  silent: true,
  animation: false
}));

const chart = echarts.init(document.getElementById('chart'), null, { renderer: 'canvas' });
chart.setOption({
  backgroundColor: '#ffffff',
  animation: false,
  title: {
    text: 'Movimiento Browniano',
    left: 432,
    top: 5,
    textAlign: 'center',
    textStyle: { fontFamily: FONT, fontSize: 29, fontWeight: 'bold', color: '#000' }
  },
  grid: {
    left: 133, top: 86, width: 600, height: 347,
    show: true, borderColor: '#000', borderWidth: 1.3, backgroundColor: 'transparent',
    containLabel: false,
    outerBoundsMode: 'none'
  },
  xAxis: {
    type: 'value',
    min: -2.96, max: 103.96,
    name: 't',
    nameLocation: 'middle',
    nameGap: 104,
    nameTextStyle: { fontFamily: FONT, fontSize: 25, color: '#000' },
    axisLine: { show: false, onZero: false },
    splitLine: { show: false },
    axisTick: { show: true, inside: false, length: 16, customValues: xTicks, lineStyle: { color: '#000', width: 1.3 } },
    axisLabel: { customValues: xTicks, fontFamily: FONT, fontSize: 25, color: '#000', margin: 39 }
  },
  yAxis: {
    type: 'value',
    min: -21.6, max: 21.6,
    name: 'W(t)',
    nameLocation: 'middle',
    nameGap: 94,
    nameTextStyle: { fontFamily: FONT, fontSize: 25, color: '#000' },
    axisLine: { show: false, onZero: false },
    splitLine: { show: false },
    axisTick: { show: true, inside: false, length: 16, customValues: yTicks, lineStyle: { color: '#000', width: 1.3 } },
    axisLabel: {
      customValues: yTicks, rotate: 90, fontFamily: FONT, fontSize: 25, color: '#000', margin: 29,
      formatter: v => String(v).replace('-', '\u2212')
    }
  },
  series: series
});
</script>
</body>
</html>
